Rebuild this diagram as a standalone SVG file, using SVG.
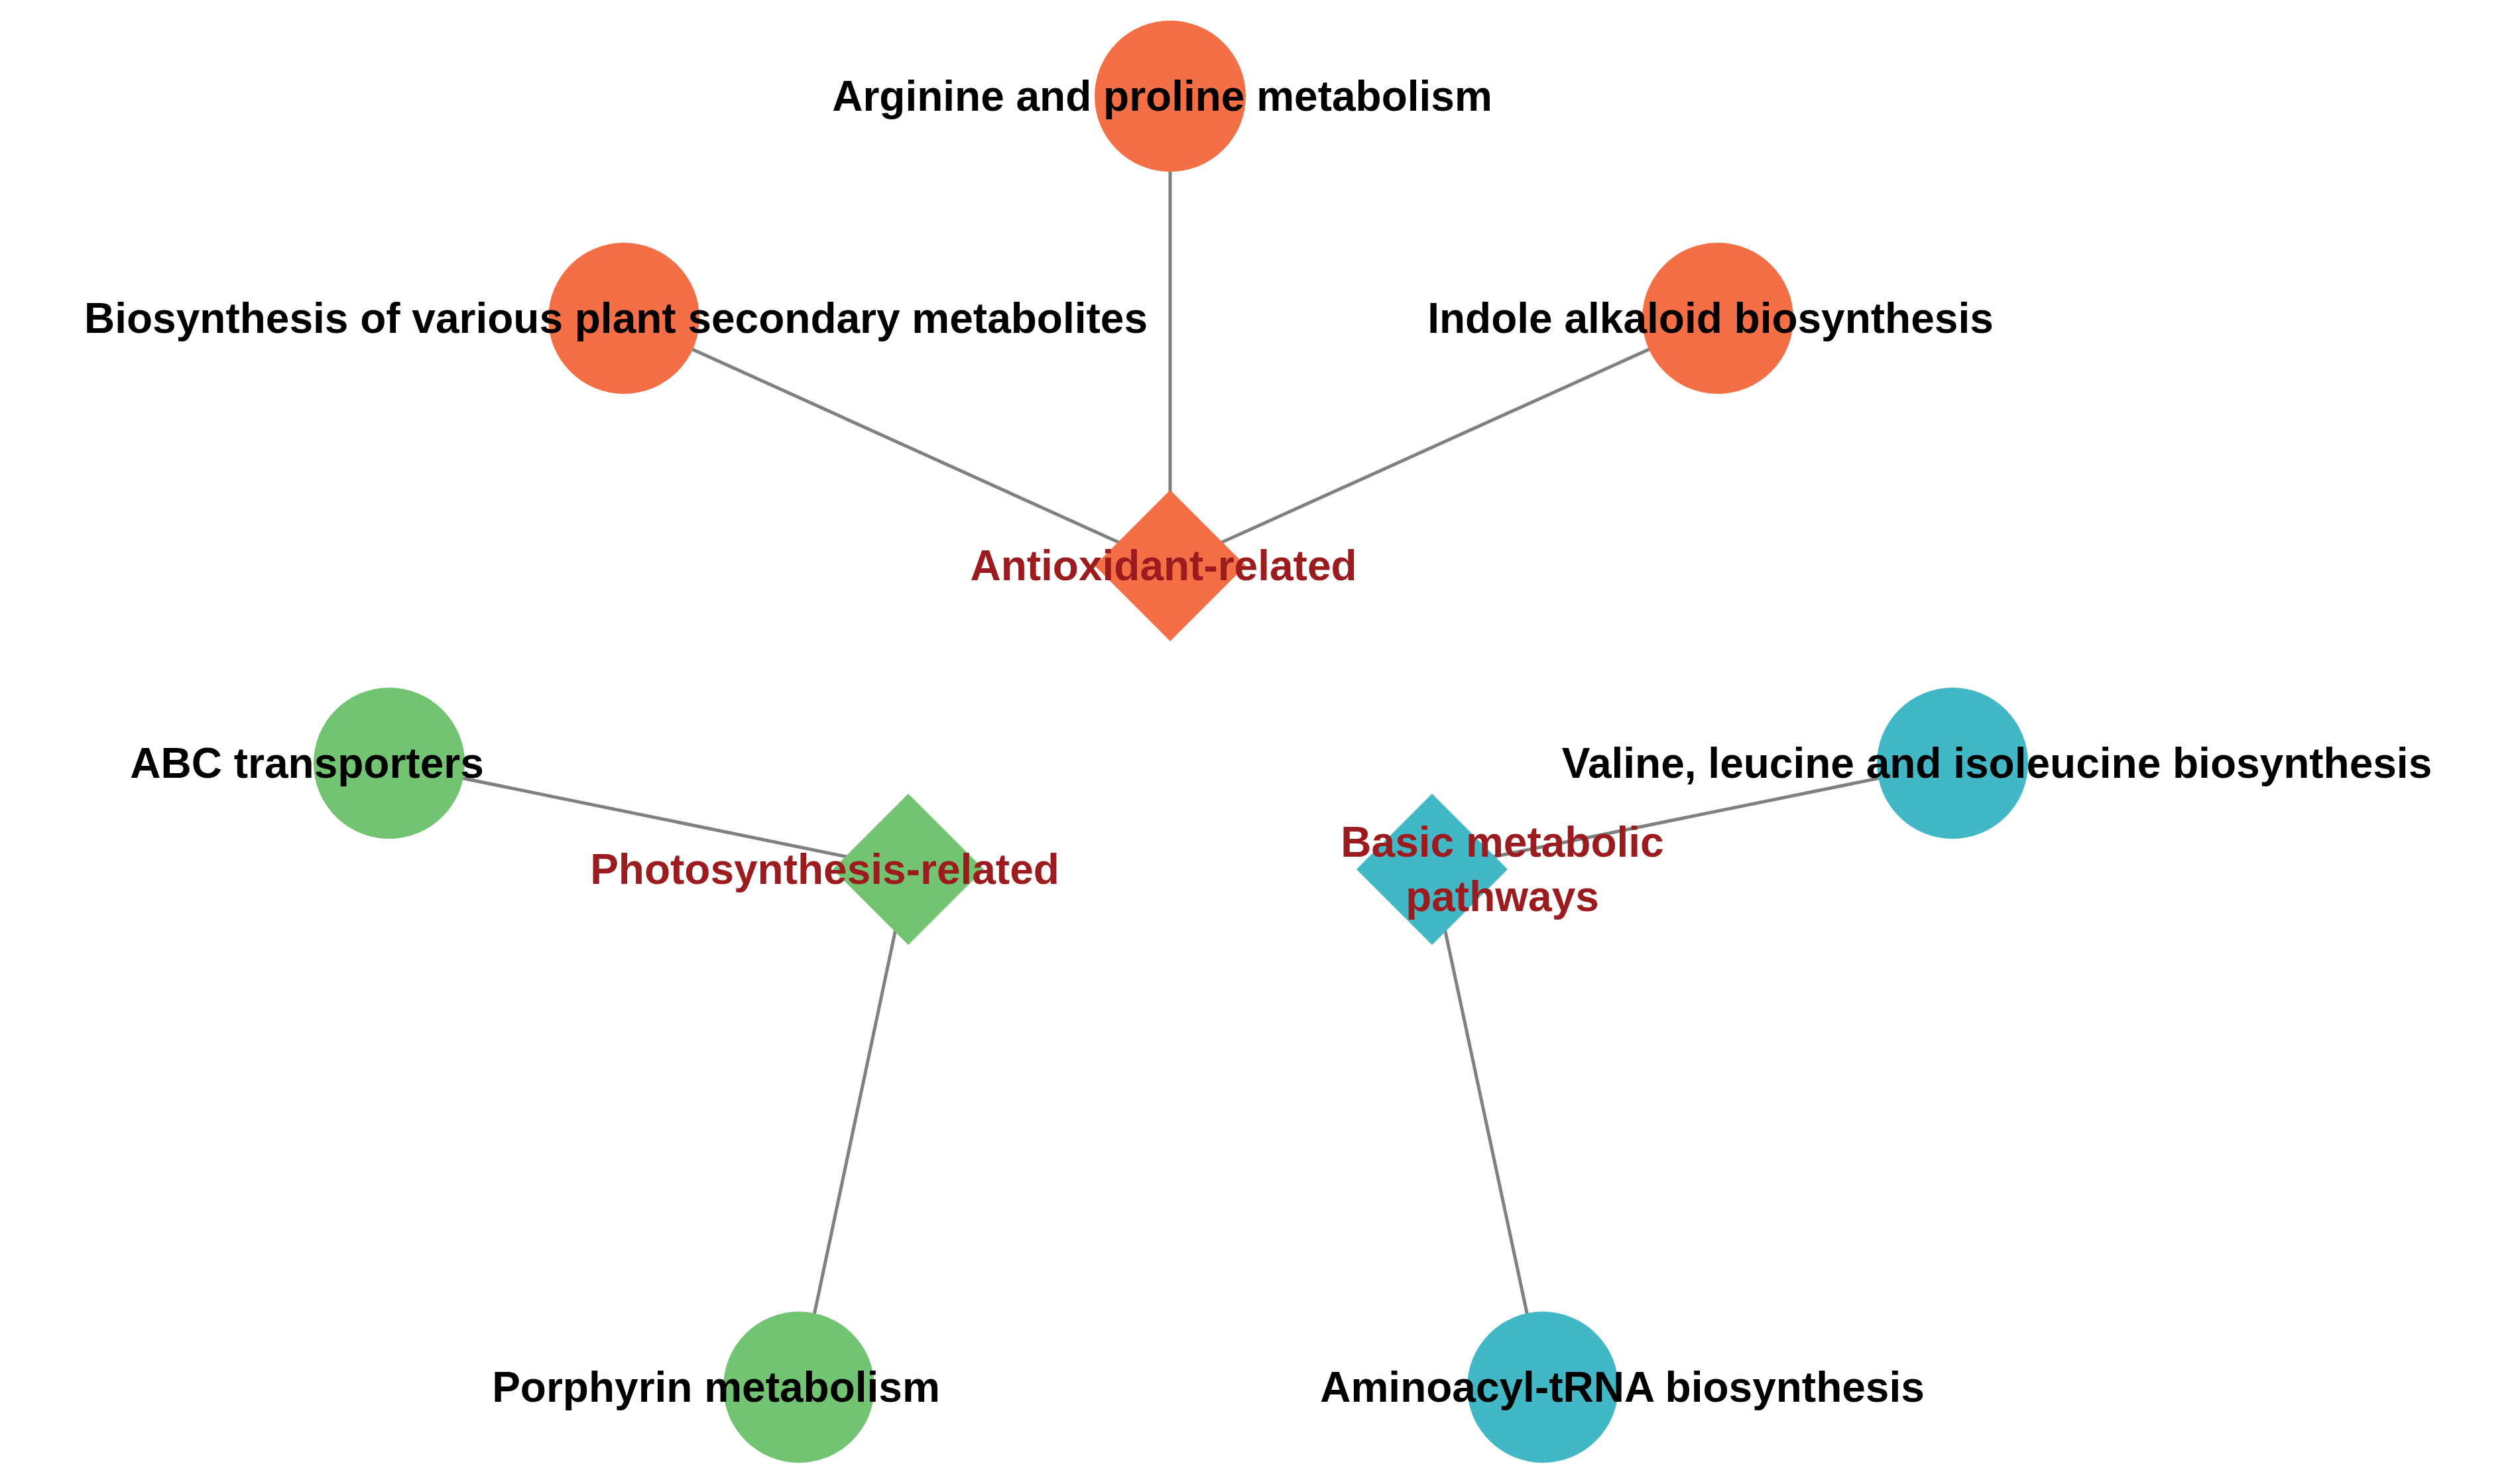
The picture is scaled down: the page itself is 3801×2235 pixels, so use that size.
<svg xmlns="http://www.w3.org/2000/svg" width="3801" height="2235" viewBox="0 0 3801 2235">
<style>
text{font-family:"Liberation Sans",Arial,sans-serif;font-weight:bold;font-size:64px;text-anchor:middle;dominant-baseline:central}
.lab{fill:#000}
.hub{fill:#9B1B1E}
.o{fill:#F46F45}.g{fill:#72C472}.t{fill:#42B7C6}
#edges line{stroke:#808080;stroke-width:5}
</style>
<rect width="3801" height="2235" fill="#fff"/>
<g id="edges">
<line x1="1765" y1="145" x2="1765" y2="853"/>
<line x1="941" y1="480" x2="1765" y2="853"/>
<line x1="2591" y1="480" x2="1765" y2="853"/>
<line x1="587" y1="1151" x2="1370" y2="1311"/>
<line x1="1205" y1="2092" x2="1370" y2="1311"/>
<line x1="2945" y1="1151" x2="2160" y2="1311"/>
<line x1="2327" y1="2092" x2="2160" y2="1311"/>
</g>
<g id="n_arg"><circle class="o" cx="1765" cy="145" r="114"/><text class="lab" x="1753" y="145">Arginine and proline metabolism</text></g>
<g id="n_bio"><circle class="o" cx="941" cy="480" r="114"/><text class="lab" x="929" y="480">Biosynthesis of various plant secondary metabolites</text></g>
<g id="n_ind"><circle class="o" cx="2591" cy="480" r="114"/><text class="lab" x="2580" y="480">Indole alkaloid biosynthesis</text></g>
<g id="n_abc"><circle class="g" cx="587" cy="1151" r="114"/><text class="lab" x="463" y="1151">ABC transporters</text></g>
<g id="n_por"><circle class="g" cx="1205" cy="2092" r="114"/><text class="lab" x="1080" y="2092">Porphyrin metabolism</text></g>
<g id="n_val"><circle class="t" cx="2945" cy="1151" r="114"/><text class="lab" x="3012" y="1151">Valine, leucine and isoleucine biosynthesis</text></g>
<g id="n_ami"><circle class="t" cx="2327" cy="2092" r="114"/><text class="lab" x="2447" y="2092">Aminoacyl-tRNA biosynthesis</text></g>
<g id="n_anti"><polygon class="o" points="1765,739 1879,853 1765,967 1651,853"/><text class="hub" x="1755" y="853">Antioxidant-related</text></g>
<g id="n_photo"><polygon class="g" points="1370,1197 1484,1311 1370,1425 1256,1311"/><text class="hub" x="1244" y="1311">Photosynthesis-related</text></g>
<g id="n_basic"><polygon class="t" points="2160,1197 2274,1311 2160,1425 2046,1311"/><text class="hub" x="2266" y="1270">Basic metabolic</text><text class="hub" x="2266" y="1352">pathways</text></g>
</svg>
